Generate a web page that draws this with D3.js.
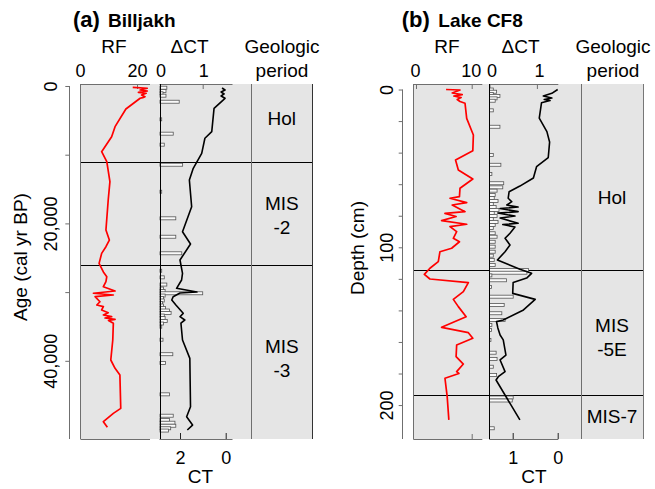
<!DOCTYPE html>
<html>
<head>
<meta charset="utf-8">
<script src="https://cdn.jsdelivr.net/npm/d3@7"></script>
<style>
  body { margin: 0; background: #fff; }
  svg text { font-family: "Liberation Sans", Arial, Helvetica, sans-serif; fill: #000; }
</style>
</head>
<body>
<div id="chart"></div>
<script>
// (a) Billjakh, age in cal yr BP
const billjakhRfAge = [190, 330, 580, 730, 920, 1060, 1310, 1560, 1700, 1790, 3350, 5920, 7380, 9560, 11020, 13930, 16590, 20960, 22420, 23390,
  24360, 25820, 27070, 27760, 28480, 29210, 29840, 30170, 30420, 30670, 31400, 31880, 32120, 32600, 33000, 33330, 33580, 33770, 33960, 34130,
  34540, 36970, 39880, 41090, 42070, 46920, 47650, 48860, 49680];
const billjakhRf = [18.5, 23.6, 21.1, 23.6, 20.5, 23.2, 21.6, 22.8, 22.0, 21.1, 16.1, 12.3, 11.1, 7.6, 9.4, 10.5, 9.9, 9.1, 10.3, 9.1,
  7.6, 6.7, 8.2, 9.4, 9.1, 8.2, 12.3, 4.7, 11.7, 5.3, 7.0, 5.9, 8.2, 7.6, 9.9, 8.2, 11.1, 8.8, 12.3, 10.0,
  11.7, 11.5, 10.8, 12.3, 14.0, 14.3, 11.7, 8.2, 9.6];

const billjakhCtAge = [290, 580, 870, 1160, 1460, 1790, 3250, 6650, 7610, 9800, 11980, 13680, 17570, 21210, 23000, 25330, 27260, 28240, 29450, 29990,
  30130, 30670, 31150, 31880, 33090, 33580, 34060, 34500, 36970, 39640, 46680, 48140, 49350, 50070];
const billjakhCt = [0.16, 0.03, 0.2, 0.07, 0.2, 0.03, 0.51, 0.61, 0.91, 1.05, 1.42, 1.59, 1.49, 1.89, 1.54, 2.0, 1.89, 1.93, 2.15, 1.26,
  2.0, 2.3, 2.36, 2.18, 1.86, 2.0, 1.79, 1.96, 1.89, 1.57, 1.54, 1.71, 1.45, 1.68];

const billjakhDctAge = [250, 730, 1060, 1410, 2290, 4850, 6940, 8540, 11460, 15390, 19260, 21940, 24350, 26890, 27850, 28900, 29480, 29840, 30170, 30500,
  30860, 31220, 31590, 31950, 32310, 32680, 33040, 33410, 33770, 34210, 34570, 35040, 36930, 39040, 40320, 44880, 47990, 48600, 49010, 49450,
  49820, 50150];
const billjakhDct = [0.16, 0.14, 0.07, 0.14, 0.45, 0.04, 0.31, 0.10, 0.53, 0.04, 0.37, 0.37, 0.51, 0.04, 0.10, 0.16, 0.08, 0.12, 1.0, 0.12,
  0.08, 0.10, 0.06, 0.08, 0.13, 0.22, 0.26, 0.10, 0.12, 0.17, 0.08, 0.04, 0.07, 0.30, 0.13, 0.22, 0.31, 0.22, 0.35, 0.37,
  0.25, 0.20];

const billjakhBounds = [11200, 26150];
const billjakhPeriods = [["Hol"], ["MIS", "-2"], ["MIS", "-3"]];
const billjakhPeriodAt = [4660, 18780, 39590];
const billjakhTicks = [0, 10000, 20000, 30000, 40000];
const billjakhTickLabels = [0, 20000, 40000];

// (b) Lake CF8, depth in cm
const cf8RfDepth = [0, 0.3, 2.2, 3.2, 4.1, 5.1, 6.3, 7.6, 8.7, 18.3, 28.8, 38.8, 44.7, 51.0, 56.7, 62.6, 67.9, 68.9, 71.7, 73.2,
  77.4, 78.5, 80.5, 83.1, 85.4, 86.9, 90.1, 94.3, 96.5, 100.6, 102.8, 109.1, 113.3, 117.2, 120.1, 122.4, 128.1, 133.0, 137.6, 144.0,
  150.7, 154.1, 157.7, 161.9, 169.3, 174.0, 178.8, 180, 183.0, 194.7, 209.4];
const cf8Rf = [5.4, 7.9, 6.5, 8.3, 6.8, 8.1, 7.4, 7.9, 8.8, 9.1, 10.3, 10.2, 7.1, 7.6, 10.2, 7.9, 7.8, 6.1, 9.1, 6.5,
  8.8, 5.2, 7.2, 4.6, 9.1, 6.1, 7.3, 6.7, 7.8, 6.4, 4.3, 4.0, 2.5, 1.5, 2.5, 9.4, 8.5, 6.7, 7.6, 9.0,
  4.6, 9.4, 10.2, 7.3, 7.2, 8.5, 7.3, 7.7, 5.2, 5.6, 5.9];

const cf8CtDepth = [0, 2.4, 4.1, 5.4, 6.3, 7.0, 8.4, 18.1, 26.7, 33.3, 43.1, 48.9, 56.1, 61.2, 64.8, 68.9, 71.1, 73.2, 74.5, 75.4,
  77.4, 78.3, 80.2, 81.4, 84.8, 85.6, 87.1, 91.1, 94.3, 98.5, 102.8, 108.0, 113.9, 116.5, 119.5, 122.3, 129.2, 133.0, 139.7, 146.1,
  147.1, 151.1, 155.6, 158.7, 168.3, 171.4, 178.8, 182.0, 184.1, 209.4];
const cf8Ct = [0.0, 0.13, 0.32, 0.13, 0.30, 0.17, 0.36, 0.41, 0.24, 0.18, 0.21, 0.47, 0.54, 0.84, 1.08, 1.10, 1.02, 1.13, 0.88, 1.28,
  0.88, 1.33, 0.95, 1.28, 0.88, 1.22, 0.95, 1.06, 1.17, 1.06, 1.17, 1.34, 0.84, 0.58, 0.69, 0.99, 1.0, 0.50, 0.76, 1.21,
  1.36, 1.33, 1.28, 1.21, 1.15, 1.28, 1.17, 1.32, 1.37, 0.84];

const cf8DctDepth = [0, 1.4, 2.9, 4.1, 5.6, 7.1, 13.2, 23.6, 41.5, 47.7, 53.5, 59.4, 62.0, 64.1, 66.9, 68.8, 70.7, 72.6, 74.5, 76.4,
  78.3, 80.2, 82.1, 84.0, 85.9, 87.8, 91.1, 93.3, 96.5, 99.6, 102.8, 105.3, 108.0, 111.2, 114.4, 116.1, 117.8, 120.9, 125.2, 131.3,
  136.6, 141.8, 146.1, 149.2, 152.4, 158.7, 166.8, 170.8, 175.7, 180.9, 195.2, 197.1, 214.7];
const cf8Dct = [0.08, 0.15, 0.08, 0.22, 0.16, 0.12, 0.08, 0.22, 0.08, 0.24, 0.05, 0.30, 0.28, 0.16, 0.12, 0.10, 0.18, 0.08, 0.14, 0.20,
  0.10, 0.16, 0.08, 0.18, 0.12, 0.08, 0.12, 0.16, 0.12, 0.12, 0.12, 0.08, 0.10, 0.12, 0.82, 0.79, 0.05, 0.36, 0.04, 0.50,
  0.31, 0.26, 0.33, 0.05, 0.04, 0.03, 0.14, 0.16, 0.08, 0.15, 0.50, 0.48, 0.10];

const cf8Bounds = [114.4, 194.0];
const cf8Periods = [["Hol"], ["MIS", "-5E"], ["MIS-7"]];
const cf8PeriodAt = [68.1, 156.8, 206.9];
const cf8Ticks = d3.range(0, 201, 20);
const cf8TickLabels = [0, 100, 200];

const width = 655, height = 489;
const plotTop = 84, plotBottom = 439;
const axisGray = "#6f6f6f";

const svg = d3.select("#chart")
  .append("svg")
    .attr("width", width)
    .attr("height", height);

// snap 1px rules onto the pixel grid so they stay dark
const crisp = v => Math.round(v - 0.5) + 0.5;

function vline(g, x, y1, y2, color) {
  g.append("line").attr("x1", crisp(x)).attr("x2", crisp(x)).attr("y1", y1).attr("y2", y2)
    .attr("stroke", color).attr("stroke-width", 1);
}
function hline(g, x1, x2, y, color) {
  g.append("line").attr("x1", x1).attr("x2", x2).attr("y1", crisp(y)).attr("y2", crisp(y))
    .attr("stroke", color).attr("stroke-width", 1);
}

function drawCore(p) {
  const g = svg.append("g");
  const y = d3.scaleLinear().domain(p.yDomain).range([plotTop, plotBottom]);
  const rf = d3.scaleLinear().domain([0, p.rfTick]).range(p.rfRange);
  const dct = d3.scaleLinear().domain([0, 1]).range(p.dctRange);
  const ct = d3.scaleLinear().domain([0, p.ctTick]).range(p.ctRange);
  const plain = d => String(d);

  // grey background behind all three columns
  g.append("rect")
    .attr("x", p.rfExtent[0]).attr("y", plotTop)
    .attr("width", p.geoExtent[1] - p.rfExtent[0]).attr("height", plotBottom - plotTop)
    .attr("fill", "#e5e5e5");

  // depth / age axis
  const yAxis = d3.axisLeft(y)
    .tickValues(p.ticks)
    .tickSizeInner(4).tickSizeOuter(0)
    .tickFormat(d => p.tickLabels.includes(d) ? d3.format(",")(d) : "");
  const ya = g.append("g")
    .attr("transform", "translate(" + p.yAxisX + ",0)")
    .call(yAxis)
    .attr("color", axisGray)
    .attr("font-size", 18);
  ya.select(".domain").remove();
  ya.selectAll(".tick text")
    .attr("x", 0).attr("dy", null)
    .attr("y", -(p.yAxisX - p.yLabelBase))
    .attr("text-anchor", "middle")
    .attr("transform", "rotate(-90)");
  vline(g, p.yAxisX, y(0), plotBottom, axisGray);

  g.append("text")
    .attr("transform", "translate(" + p.yTitleX + "," + p.yTitleY + ") rotate(-90)")
    .attr("text-anchor", "middle").attr("font-size", 19)
    .text(p.yTitle);

  // period boundaries
  p.bounds.forEach(b => hline(g, p.rfExtent[0], p.geoExtent[1], y(b), "#000"));

  // RF column
  vline(g, p.rfExtent[0], plotTop, plotBottom, axisGray);
  hline(g, p.rfExtent[0], p.rfExtent[1], plotTop, axisGray);
  hline(g, p.rfExtent[0], p.rfExtent[1], plotBottom, axisGray);
  const rfAxis = g.append("g")
    .attr("transform", "translate(0," + plotTop + ")")
    .call(d3.axisTop(rf).tickValues([0, p.rfTick]).tickFormat(plain)
      .tickSizeInner(-5).tickSizeOuter(0).tickPadding(7))
    .attr("color", axisGray).attr("font-size", 18);
  rfAxis.select(".domain").remove();
  rfAxis.selectAll(".tick text").attr("dx", p.rfLabelDx);
  if (p.rfBottomTick) {
    g.append("g")
      .attr("transform", "translate(0," + plotBottom + ")")
      .call(d3.axisBottom(rf).tickValues([p.rfTick]).tickSizeInner(-5).tickSizeOuter(0).tickFormat(""))
      .attr("color", axisGray)
      .select(".domain").remove();
  }

  const rfLine = d3.line().x(d => rf(d[1])).y(d => y(d[0]));
  g.append("path")
    .datum(d3.zip(p.rfDepth, p.rfVal))
    .attr("d", rfLine)
    .attr("fill", "none").attr("stroke", "#ff0000")
    .attr("stroke-width", 1.7).attr("stroke-linejoin", "round");

  // dCT / CT column
  hline(g, p.dctExtent[0], p.dctExtent[1], plotTop, axisGray);
  hline(g, p.dctExtent[0], p.dctExtent[1], plotBottom, axisGray);
  const dctAxis = g.append("g")
    .attr("transform", "translate(0," + plotTop + ")")
    .call(d3.axisTop(dct).tickValues([0, 1]).tickFormat(plain)
      .tickSizeInner(-5).tickSizeOuter(0).tickPadding(7))
    .attr("color", axisGray).attr("font-size", 18);
  dctAxis.select(".domain").remove();
  dctAxis.selectAll(".tick text").attr("dx", p.dctLabelDx);

  const ctAxis = g.append("g")
    .attr("transform", "translate(0," + plotBottom + ")")
    .call(d3.axisBottom(ct).tickValues([p.ctTick, 0]).tickFormat(plain)
      .tickSizeInner(-6).tickSizeOuter(0))
    .attr("color", axisGray).attr("font-size", 18);
  ctAxis.select(".domain").remove();
  ctAxis.selectAll(".tick line").attr("stroke", "#222");
  ctAxis.selectAll(".tick text").attr("y", 25).attr("dy", null);

  g.selectAll(".dct-bar")
    .data(d3.zip(p.dctDepth, p.dctVal))
    .enter()
    .append("rect")
      .attr("class", "dct-bar")
      .attr("x", dct(0))
      .attr("y", d => y(d[0]) - 1.5)
      .attr("width", d => dct(d[1]) - dct(0))
      .attr("height", 3)
      .attr("fill", "#fafafa")
      .attr("stroke", "#555")
      .attr("stroke-width", 0.8);

  const ctLine = d3.line().x(d => ct(d[1])).y(d => y(d[0]));
  g.append("path")
    .datum(d3.zip(p.ctDepth, p.ctVal))
    .attr("d", ctLine)
    .attr("fill", "none").attr("stroke", "#000")
    .attr("stroke-width", 1.6).attr("stroke-linejoin", "round");

  vline(g, dct(0), plotTop, plotBottom, "#000");

  // geologic period column
  vline(g, p.geoExtent[0], plotTop, plotBottom, axisGray);
  vline(g, p.geoExtent[1], plotTop, plotBottom, p.geoEdge);
  const geoMid = (p.geoExtent[0] + p.geoExtent[1]) / 2;
  p.periods.forEach((lines, i) => {
    const cy = y(p.periodAt[i]);
    const first = cy + 6.8 - (lines.length - 1) * 12;
    lines.forEach((s, j) => {
      g.append("text")
        .attr("x", geoMid).attr("y", first + j * 24)
        .attr("text-anchor", "middle").attr("font-size", 19)
        .text(s);
    });
  });

  // column headers and titles
  const head = [
    [p.rfHeadX, 53, "RF"], [p.dctHeadX, 53, "\u0394CT"],
    [p.geoHeadX, 53, "Geologic"], [p.geoHeadX, 77, "period"],
    [p.ctTitleX, 483, "CT"]
  ];
  head.forEach(h => {
    g.append("text").attr("x", h[0]).attr("y", h[1])
      .attr("text-anchor", "middle").attr("font-size", 19).text(h[2]);
  });
  g.append("text").attr("x", p.titleX).attr("y", 27)
    .attr("font-weight", "bold").attr("font-size", 22).text(p.tag);
  g.append("text").attr("x", p.nameX).attr("y", 27)
    .attr("font-weight", "bold").attr("font-size", 19).text(p.name);
}

drawCore({
  tag: "(a)", name: "Billjakh", titleX: 73, nameX: 108,
  yDomain: [-290, 51380], ticks: billjakhTicks, tickLabels: billjakhTickLabels,
  yAxisX: 69.3, yLabelBase: 57, yTitle: "Age (cal yr BP)", yTitleX: 27, yTitleY: 257,
  rfTick: 20, rfRange: [80, 137], rfExtent: [80.5, 150], rfBottomTick: false, rfLabelDx: 0,
  dctRange: [160, 202.7], dctExtent: [159.5, 232.5], dctLabelDx: 0.5,
  ctTick: 2, ctRange: [225.7, 180],
  geoExtent: [251.7, 312], geoEdge: "#333",
  rfDepth: billjakhRfAge, rfVal: billjakhRf,
  ctDepth: billjakhCtAge, ctVal: billjakhCt,
  dctDepth: billjakhDctAge, dctVal: billjakhDct,
  bounds: billjakhBounds, periods: billjakhPeriods, periodAt: billjakhPeriodAt,
  rfHeadX: 114, dctHeadX: 189.5, geoHeadX: 282, ctTitleX: 200.5
});

drawCore({
  tag: "(b)", name: "Lake CF8", titleX: 401.7, nameX: 438.3,
  yDomain: [-3.5, 221.5], ticks: cf8Ticks, tickLabels: cf8TickLabels,
  yAxisX: 402.7, yLabelBase: 393, yTitle: "Depth (cm)", yTitleX: 363.5, yTitleY: 248,
  rfTick: 10, rfRange: [416, 471.7], rfExtent: [413.3, 482.3], rfBottomTick: true, rfLabelDx: -1,
  dctRange: [489.5, 536.9], dctExtent: [489.3, 558.3], dctLabelDx: 2,
  ctTick: 1, ctRange: [557.7, 512.7],
  geoExtent: [581, 643], geoEdge: "#777",
  rfDepth: cf8RfDepth, rfVal: cf8Rf,
  ctDepth: cf8CtDepth, ctVal: cf8Ct,
  dctDepth: cf8DctDepth, dctVal: cf8Dct,
  bounds: cf8Bounds, periods: cf8Periods, periodAt: cf8PeriodAt,
  rfHeadX: 447, dctHeadX: 520.5, geoHeadX: 613, ctTitleX: 534
});
</script>
</body>
</html>
